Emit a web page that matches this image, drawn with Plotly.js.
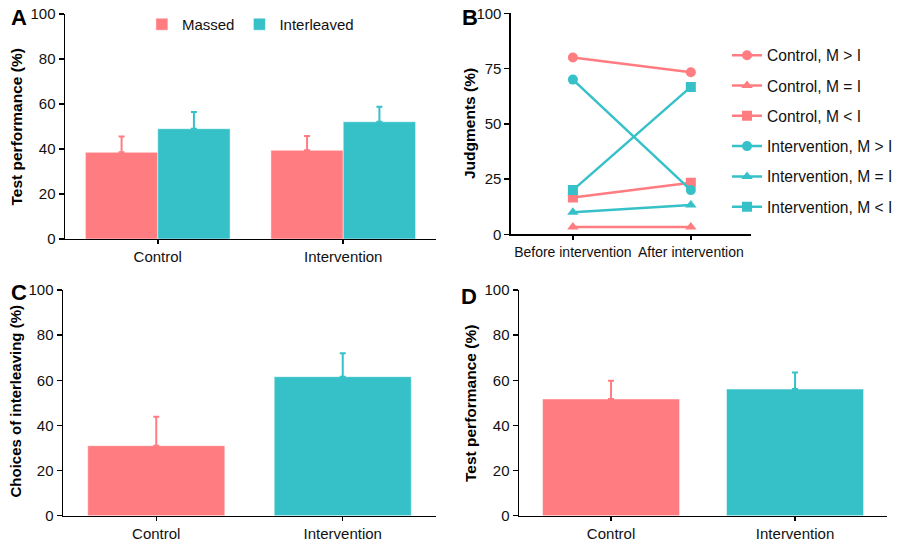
<!DOCTYPE html>
<html><head><meta charset="utf-8">
<script src="https://cdn.plot.ly/plotly-3.0.1.min.js"></script>
<style>html,body{margin:0;padding:0;background:#fff;overflow:hidden}#c{width:898px;height:544px}</style>
</head><body><div id="c"></div>
<script>
// Panel A
var groupsA = ["Control", "Intervention"];
var massedA = [38.5, 39.4];
var massedErrA = [7.0, 6.4];
var interleavedA = [49.0, 52.1];
var interleavedErrA = [7.4, 6.7];
// Panel B
var phasesB = ["Before intervention", "After intervention"];
var seriesNamesB = ["Control, M > I", "Control, M = I", "Control, M < I", "Intervention, M > I", "Intervention, M = I", "Intervention, M < I"];
var ctrlMgtI = [80.0, 73.3];
var ctrlMeqI = [3.3, 3.3];
var ctrlMltI = [16.7, 23.3];
var intMgtI = [70.0, 20.0];
var intMeqI = [10.0, 13.3];
var intMltI = [20.0, 66.7];
// Panel C
var groupsC = ["Control", "Intervention"];
var choicesC = [31.0, 61.6];
var choicesErrC = [12.9, 10.4];
// Panel D
var groupsD = ["Control", "Intervention"];
var perfD = [51.7, 56.1];
var perfErrD = [8.1, 7.4];
// Axis titles
var yTitles = ["Test performance (%)", "Judgments (%)", "Choices of interleaving (%)", "Test performance (%)"];

var PINK = "#FF7C80", TEAL = "#36C1C8";
var FONT = "Liberation Sans, Arial, sans-serif";

function errUp(arr, col){ return {type:"data", symmetric:false, array:arr, arrayminus:arr.map(function(){return 0;}), color:col, thickness:2, width:3}; }
var barLine = {color:"rgba(255,255,255,0.6)", width:0.8};

var traces = [];
traces.push({type:"bar", x:groupsA, y:massedA, name:"Massed", marker:{color:PINK, line:barLine}, width:0.39, offset:-0.39, error_y:errUp(massedErrA, PINK), xaxis:"x", yaxis:"y", legend:"legend"});
traces.push({type:"bar", x:groupsA, y:interleavedA, name:"Interleaved", marker:{color:TEAL, line:barLine}, width:0.39, offset:0, error_y:errUp(interleavedErrA, TEAL), xaxis:"x", yaxis:"y", legend:"legend"});

var bData = [ctrlMgtI, ctrlMeqI, ctrlMltI, intMgtI, intMeqI, intMltI];
var bCols = [PINK, PINK, PINK, TEAL, TEAL, TEAL];
var bSyms = ["circle", "triangle-up", "square", "circle", "triangle-up", "square"];
for (var i = 0; i < 6; i++) {
  traces.push({type:"scatter", mode:"lines+markers", x:phasesB, y:bData[i], name:seriesNamesB[i],
    line:{color:bCols[i], width:2.5}, marker:{color:bCols[i], symbol:bSyms[i], size:10},
    xaxis:"x2", yaxis:"y2", legend:"legend2", legendgroup:"g"+i});
}
var cCols = [PINK, TEAL];
for (var j = 0; j < 2; j++) {
  traces.push({type:"bar", x:[groupsC[j]], y:[choicesC[j]], marker:{color:cCols[j], line:barLine}, width:0.735, error_y:errUp([choicesErrC[j]], cCols[j]), xaxis:"x3", yaxis:"y3", showlegend:false});
  traces.push({type:"bar", x:[groupsD[j]], y:[perfD[j]], marker:{color:cCols[j], line:barLine}, width:0.745, error_y:errUp([perfErrD[j]], cCols[j]), xaxis:"x4", yaxis:"y4", showlegend:false});
}

function xax(dom, anchor, extra){
  var a = {domain:dom, anchor:anchor, showline:true, linecolor:"#000", linewidth:1.5, ticks:"outside", ticklen:4, tickcolor:"#000", tickwidth:1.5,
    showgrid:false, zeroline:false, tickfont:{family:FONT, size:15, color:"#111"}, fixedrange:true, type:"category"};
  for (var k in extra) a[k] = extra[k];
  return a;
}
function yax(dom, anchor, dtick){
  return {domain:dom, anchor:anchor, range:[0,100], dtick:dtick, showline:true, linecolor:"#000", linewidth:1.5, ticks:"outside", ticklen:5, tickcolor:"#000", tickwidth:1.5,
    showgrid:false, zeroline:false, tickfont:{family:FONT, size:15, color:"#111"}, fixedrange:true};
}
function panelLabel(t, px, py){
  return {text:"<b>"+t+"</b>", x:px/898, y:1-py/544, xref:"paper", yref:"paper", xanchor:"left", yanchor:"middle", showarrow:false, font:{family:FONT, size:22, color:"#000"}};
}
function yTitle(t, px, py, size){
  return {text:"<b>"+t+"</b>", x:px/898, y:1-py/544, xref:"paper", yref:"paper", xanchor:"center", yanchor:"middle", textangle:-90, showarrow:false, font:{family:FONT, size:size, color:"#000"}};
}

var layout = {
  width:898, height:544, margin:{l:0, r:0, t:0, b:0, autoexpand:false}, paper_bgcolor:"#fff", plot_bgcolor:"#fff",
  barmode:"overlay", showlegend:true,
  xaxis: xax([0.0724, 0.4855], "y", {range:[-0.5, 1.5]}),
  yaxis: yax([0.5607, 0.9743], "x", 20),
  xaxis2: xax([0.5690, 0.8363], "y2", {range:[-0.525, 1.51], tickfont:{family:FONT, size:14, color:"#111"}}),
  yaxis2: yax([0.5693, 0.9755], "x2", 25),
  xaxis3: xax([0.0702, 0.4855], "y3", {range:[-0.5, 1.5]}),
  yaxis3: yax([0.0520, 0.4669], "x3", 20),
  xaxis4: xax([0.5780, 0.9878], "y4", {range:[-0.5, 1.5]}),
  yaxis4: yax([0.0520, 0.4669], "x4", 20),
  legend:{orientation:"h", x:0.158, y:0.955, xanchor:"left", yanchor:"middle", bgcolor:"rgba(255,255,255,0.9)", font:{family:FONT, size:15, color:"#111"}, itemwidth:30},
  legend2:{x:1, y:0.929, xanchor:"right", yanchor:"top", font:{family:FONT, size:15.6, color:"#111"}, tracegroupgap:7, bgcolor:"rgba(0,0,0,0)"},
  annotations:[
    panelLabel("A", 9, 18), panelLabel("B", 460, 17), panelLabel("C", 9, 292), panelLabel("D", 459, 296),
    yTitle(yTitles[0], 16, 127.5, 15.5), yTitle(yTitles[1], 470, 124, 15.5),
    yTitle(yTitles[2], 14.5, 401, 15), yTitle(yTitles[3], 470, 404, 15.5)
  ]
};
Plotly.newPlot("c", traces, layout, {displayModeBar:false, staticPlot:true});
</script></body></html>
